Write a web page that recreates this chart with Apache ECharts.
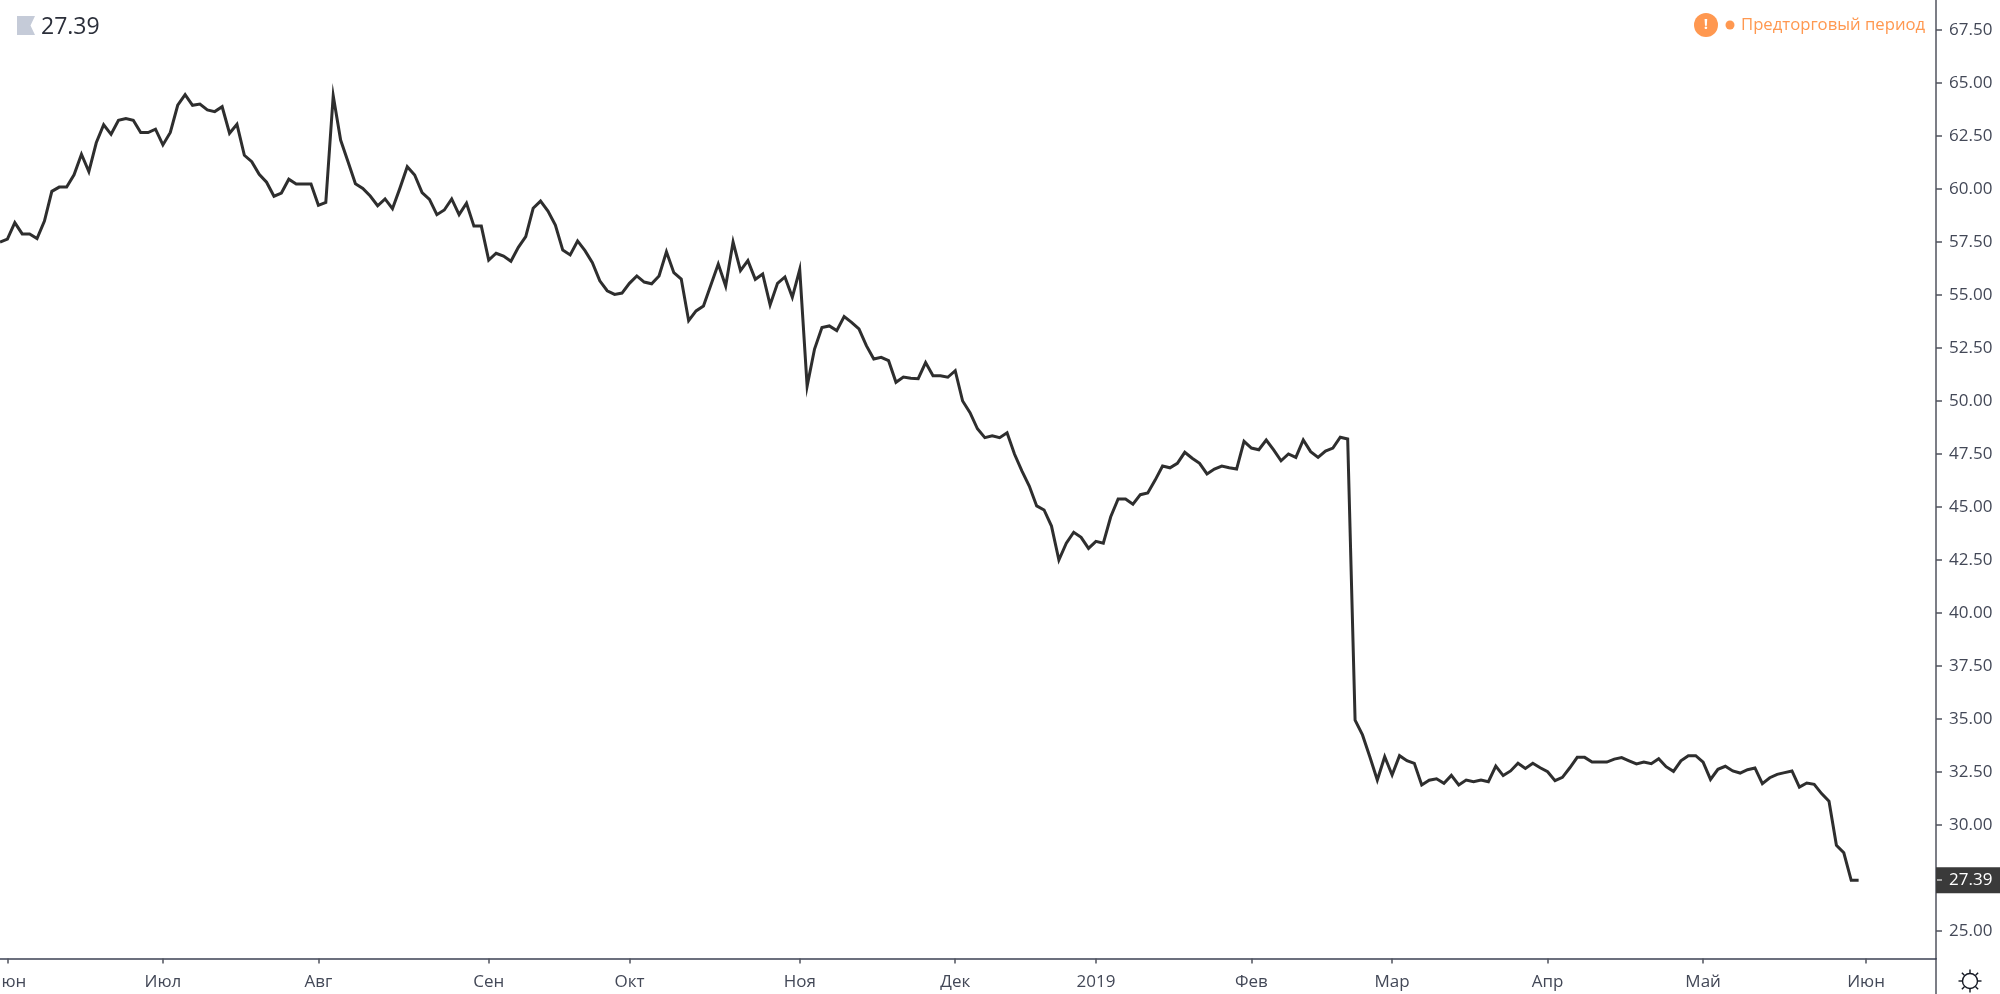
<!DOCTYPE html>
<html>
<head>
<meta charset="utf-8">
<style>html,body{margin:0;padding:0;background:#fff}#c{width:2000px;height:994px}</style>
<script src="https://cdn.jsdelivr.net/npm/echarts@6/dist/echarts.min.js"></script>
</head>
<body>
<div id="c"></div>
<script>
const prices = [57.50,57.64,58.41,57.88,57.88,57.66,58.49,59.89,60.09,60.09,60.67,61.64,60.82,62.18,63.03,62.58,63.24,63.32,63.24,62.66,
62.66,62.82,62.08,62.67,63.95,64.45,63.95,64.01,63.73,63.65,63.88,62.63,63.05,61.59,61.29,60.69,60.32,59.66,59.81,60.46,
60.24,60.24,60.24,59.23,59.37,64.4,62.31,61.29,60.25,60.03,59.67,59.21,59.53,59.07,60.03,61.05,60.66,59.83,59.51,58.79,
59.01,59.53,58.79,59.33,58.25,58.25,56.65,56.97,56.84,56.59,57.25,57.75,59.09,59.43,58.96,58.30,57.12,56.89,57.55,57.09,
56.52,55.67,55.20,55.03,55.09,55.55,55.90,55.61,55.53,55.90,57.04,56.05,55.75,53.79,54.25,54.48,55.47,56.46,55.42,57.5,
56.15,56.62,55.74,55.99,54.53,55.55,55.85,54.89,56.2,50.7,52.45,53.47,53.54,53.32,53.98,53.71,53.40,52.61,51.98,52.06,
51.90,50.88,51.13,51.07,51.05,51.81,51.19,51.19,51.12,51.43,50.00,49.45,48.69,48.27,48.36,48.27,48.50,47.50,46.70,45.99,
45.05,44.86,44.10,42.5,43.29,43.81,43.57,43.05,43.38,43.29,44.54,45.38,45.38,45.13,45.58,45.66,46.27,46.93,46.85,47.06,
47.58,47.30,47.06,46.56,46.79,46.93,46.85,46.79,48.10,47.78,47.70,48.16,47.69,47.18,47.50,47.34,48.16,47.61,47.34,47.64,
47.78,48.29,48.21,34.95,34.25,33.21,32.12,33.22,32.36,33.27,33.03,32.91,31.89,32.11,32.18,31.97,32.34,31.89,32.12,32.04,
32.12,32.04,32.78,32.33,32.55,32.91,32.67,32.91,32.70,32.51,32.09,32.25,32.70,33.19,33.19,32.97,32.97,32.97,33.11,33.18,
33.03,32.88,32.97,32.89,33.13,32.75,32.53,33.03,33.27,33.27,32.97,32.15,32.63,32.77,32.55,32.45,32.61,32.69,31.95,32.23,
32.39,32.47,32.55,31.79,31.98,31.92,31.48,31.12,29.04,28.69,27.39,27.39];
const monthTicks = [1,22,43,66,85,108,129,148,169,188,209,230,252];
const monthLabels = ['Июн','Июл','Авг','Сен','Окт','Ноя','Дек','2019','Фев','Мар','Апр','Май','Июн'];
const priceTicks = [25,30,32.5,35,37.5,40,42.5,45,47.5,50,52.5,55,57.5,60,62.5,65,67.5];
const lastPrice = '27.39';
const sessionLabel = 'Предторговый период';

const FONT = '"Open Sans", sans-serif';
const AXIS = '#50535e';
const TEXT = '#434857';
const ORANGE = '#ff9850';
const points = prices.map((v, i) => [i, v]);

const rays = [];
for (let a = 0; a < 8; a++) {
  const t = a * Math.PI / 4;
  rays.push({type:'line', silent:true, shape:{x1:1970+Math.cos(t)*8, y1:981+Math.sin(t)*8, x2:1970+Math.cos(t)*11.5, y2:981+Math.sin(t)*11.5},
    style:{stroke:'#131722', lineWidth:1.4}});
}

const chart = echarts.init(document.getElementById('c'), null, {renderer:'canvas', width:2000, height:994});
chart.setOption({
  animation:false,
  backgroundColor:'#ffffff',
  grid:{left:0, top:0, right:64, bottom:35.5, containLabel:false, outerBoundsMode:'none'},
  xAxis:{
    type:'value', min:0, max:261.45, splitLine:{show:false},
    axisLine:{show:true, onZero:false, lineStyle:{color:'#3c4254', width:1.5}},
    axisTick:{show:true, length:5, customValues:monthTicks, lineStyle:{color:AXIS, width:1.5}},
    axisLabel:{show:true, customValues:monthTicks, margin:15, color:TEXT, fontFamily:FONT, fontSize:17,
      formatter:v => monthLabels[monthTicks.indexOf(v)] || ''}
  },
  yAxis:{
    type:'value', position:'right', min:23.703, max:68.915, splitLine:{show:false},
    axisLine:{show:true, onZero:false, lineStyle:{color:AXIS, width:1.5}},
    axisTick:{show:true, length:6, customValues:priceTicks, lineStyle:{color:AXIS, width:1.5}},
    axisLabel:{show:true, customValues:priceTicks, margin:13, color:TEXT, fontFamily:FONT, fontSize:17, padding:[3,0,0,0],
      formatter:v => v.toFixed(2)}
  },
  series:[{
    type:'line', data:points, showSymbol:false, symbol:'none', silent:true,
    lineStyle:{color:'#2e2e2e', width:3, join:'miter', miterLimit:10},
    markLine:{
      silent:true, symbol:'none', animation:false,
      lineStyle:{color:'rgba(0,0,0,0)', width:0},
      label:{show:true, position:'end', distance:0, formatter:lastPrice, color:'#ffffff', fontFamily:FONT, fontSize:17,
        backgroundColor:'#3a3a3a', padding:[5,8,4,13], align:'left', verticalAlign:'middle'},
      data:[{yAxis:Number(lastPrice)}]
    }
  }],
  graphic:[
    {type:'line', silent:true, shape:{x1:1936, y1:958, x2:1936, y2:994}, style:{stroke:AXIS, lineWidth:1.5}},
    {type:'polygon', silent:true, shape:{points:[[17,16],[35,16],[30.5,25.5],[35,35],[17,35]]}, style:{fill:'#c5cbd8'}},
    {type:'text', silent:true, x:41, y:27, style:{text:lastPrice, font:'23px '+FONT, fill:'#2b2f3a', verticalAlign:'middle', align:'left'}},
    {type:'circle', silent:true, shape:{cx:1706, cy:25, r:12}, style:{fill:ORANGE}},
    {type:'text', silent:true, x:1706, y:25, style:{text:'!', font:'bold 15px '+FONT, fill:'#ffffff', align:'center', verticalAlign:'middle'}},
    {type:'circle', silent:true, shape:{cx:1730, cy:25, r:4.5}, style:{fill:ORANGE}},
    {type:'text', silent:true, x:1741, y:25, style:{text:sessionLabel, font:'16.7px '+FONT, fill:ORANGE, align:'left', verticalAlign:'middle'}},
    {type:'circle', silent:true, shape:{cx:1970, cy:981, r:7.5}, style:{fill:'none', stroke:'#131722', lineWidth:1.4}},
    {type:'line', silent:true, z:100, shape:{x1:1937, y1:880, x2:1942, y2:880}, style:{stroke:'#c8c8c8', lineWidth:1.5}},
    ...rays
  ]
});
</script>
</body>
</html>
